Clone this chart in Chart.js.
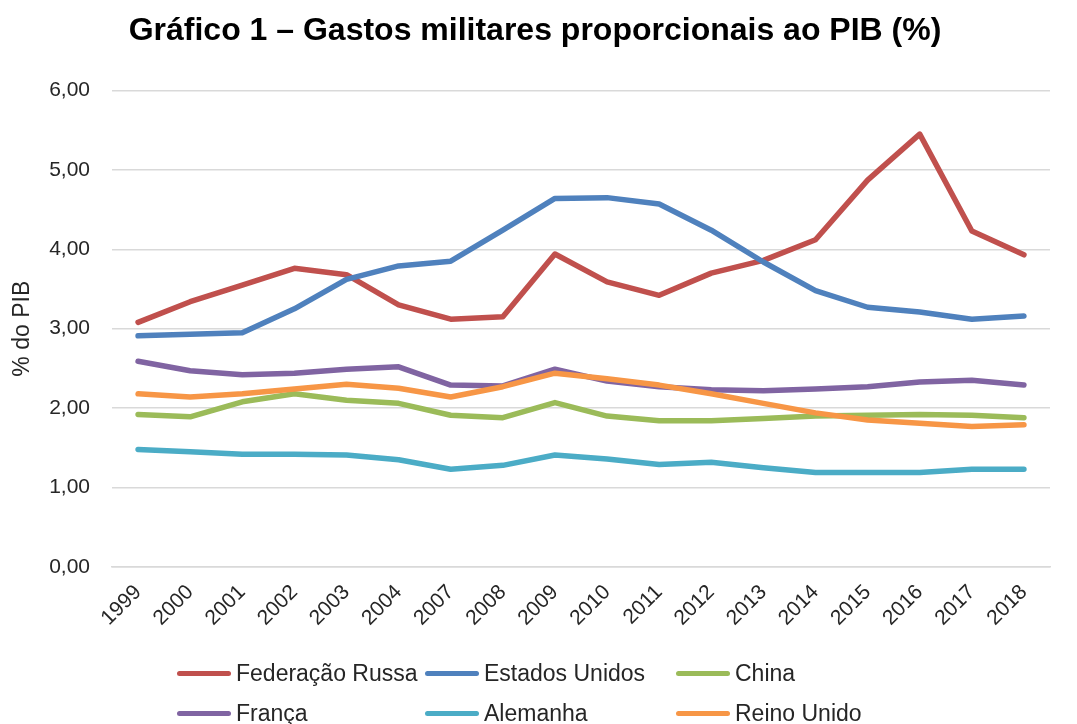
<!DOCTYPE html>
<html lang="pt">
<head>
<meta charset="utf-8">
<title>Gastos militares proporcionais ao PIB</title>
<script src="https://cdn.jsdelivr.net/npm/chart.js@4.4.1/dist/chart.umd.min.js"></script>
<style>
  html, body { margin: 0; padding: 0; background: #fff; }
  #wrap { position: relative; width: 1077px; height: 724px; overflow: hidden; }
  #chart-box { position: absolute; left: 0; top: 0; width: 1077px; height: 650px; }
  #legend {
    position: absolute; left: 0; top: 0; width: 1077px; height: 724px;
    font-family: "Liberation Sans", Arial, sans-serif; font-size: 23px; color: #262626;
  }
  .leg-item { position: absolute; display: flex; align-items: center; white-space: nowrap; }
  .leg-swatch { width: 54px; height: 5px; border-radius: 3px; margin-right: 5px; }
</style>
</head>
<body>
<div id="wrap">
  <div id="chart-box"><canvas id="chart"></canvas></div>
  <div id="legend"></div>
</div>
<script>
// anos no eixo X (2005 e 2006 nao aparecem no original)
const years = ['1999', '2000', '2001', '2002', '2003', '2004', '2007', '2008', '2009',
  '2010', '2011', '2012', '2013', '2014', '2015', '2016', '2017', '2018'];

// % do PIB
const russia = [3.08, 3.34, 3.55, 3.76, 3.68, 3.30, 3.12, 3.15, 3.94, 3.59, 3.42, 3.70, 3.86, 4.12, 4.87, 5.45, 4.23, 3.93];
const usa = [2.91, 2.93, 2.95, 3.25, 3.62, 3.79, 3.85, 4.24, 4.64, 4.65, 4.57, 4.24, 3.84, 3.48, 3.27, 3.21, 3.12, 3.16];
const china = [1.92, 1.89, 2.08, 2.18, 2.10, 2.06, 1.91, 1.88, 2.07, 1.90, 1.84, 1.84, 1.87, 1.90, 1.91, 1.92, 1.91, 1.88];
const france = [2.59, 2.47, 2.42, 2.44, 2.49, 2.52, 2.29, 2.28, 2.49, 2.34, 2.27, 2.23, 2.22, 2.24, 2.27, 2.33, 2.35, 2.29];
const germany = [1.48, 1.45, 1.42, 1.42, 1.41, 1.35, 1.23, 1.28, 1.41, 1.36, 1.29, 1.32, 1.25, 1.19, 1.19, 1.19, 1.23, 1.23];
const uk = [2.18, 2.14, 2.18, 2.24, 2.30, 2.25, 2.14, 2.27, 2.44, 2.37, 2.29, 2.18, 2.06, 1.94, 1.85, 1.81, 1.77, 1.79];

const seriesNames = ['Federação Russa', 'Estados Unidos', 'China', 'França', 'Alemanha', 'Reino Unido'];
const seriesData = [russia, usa, china, france, germany, uk];
const seriesColors = ['#C0504D', '#4F81BD', '#9BBB59', '#8064A2', '#4BACC6', '#F79646'];

// y ticks
const yMin = 0;
const yMax = 6;
const yStep = 1;

const FONT = '"Liberation Sans", Arial, sans-serif';

function buildDatasets() {
    return seriesNames.map((name, i) => ({
        label: name,
        data: seriesData[i],
        borderColor: seriesColors[i],
        backgroundColor: seriesColors[i],
        borderWidth: 5.5,
        borderCapStyle: 'round',
        borderJoinStyle: 'round',
        pointRadius: 0,
        tension: 0,
        fill: false,
        // excel draws the last series on top
        order: seriesNames.length - i
    }));
}

function buildLegend() {
    const legend = document.getElementById('legend');
    const colX = [177, 425, 676];
    const rowY = [673, 713];
    seriesNames.forEach((name, i) => {
        const item = document.createElement('div');
        item.className = 'leg-item';
        item.style.left = colX[i % 3] + 'px';
        item.style.top = (rowY[Math.floor(i / 3)] - 14) + 'px';
        item.style.height = '28px';
        const sw = document.createElement('span');
        sw.className = 'leg-swatch';
        sw.style.background = seriesColors[i];
        const txt = document.createElement('span');
        txt.textContent = name;
        item.appendChild(sw);
        item.appendChild(txt);
        legend.appendChild(item);
    });
}

const ctx = document.getElementById('chart').getContext('2d');
new Chart(ctx, {
    type: 'line',
    data: {
        labels: years,
        datasets: buildDatasets()
    },
    options: {
        responsive: true,
        maintainAspectRatio: false,
        animation: false,
        layout: {
            padding: { left: 20, right: 27, top: 0, bottom: 0 }
        },
        plugins: {
            legend: { display: false },
            tooltip: { enabled: false },
            title: {
                display: true,
                text: 'Gráfico 1 – Gastos militares proporcionais ao PIB (%)',
                color: '#000',
                font: { family: FONT, size: 32, weight: 'bold' },
                padding: { top: 12, bottom: 40 }
            }
        },
        scales: {
            x: {
                offset: true,
                grid: { display: false },
                border: { display: true, color: '#D9D9D9', width: 1.5 },
                ticks: {
                    color: '#262626',
                    font: { family: FONT, size: 21 },
                    minRotation: 45,
                    maxRotation: 45,
                    autoSkip: false,
                    padding: 5
                },
                afterFit: (scale) => { scale.height = 83; }
            },
            y: {
                min: yMin,
                max: yMax,
                border: { display: false },
                grid: { color: '#D9D9D9', lineWidth: 1.5, drawTicks: false },
                ticks: {
                    stepSize: yStep,
                    color: '#262626',
                    font: { family: FONT, size: 21 },
                    padding: 22,
                    callback: (v) => v.toFixed(2).replace('.', ',')
                },
                title: {
                    display: true,
                    text: '% do PIB',
                    color: '#262626',
                    font: { family: FONT, size: 23 },
                    padding: { top: -11, bottom: 0 }
                },
                afterFit: (scale) => { scale.width = 92; }
            }
        }
    }
});

buildLegend();
</script>
</body>
</html>
